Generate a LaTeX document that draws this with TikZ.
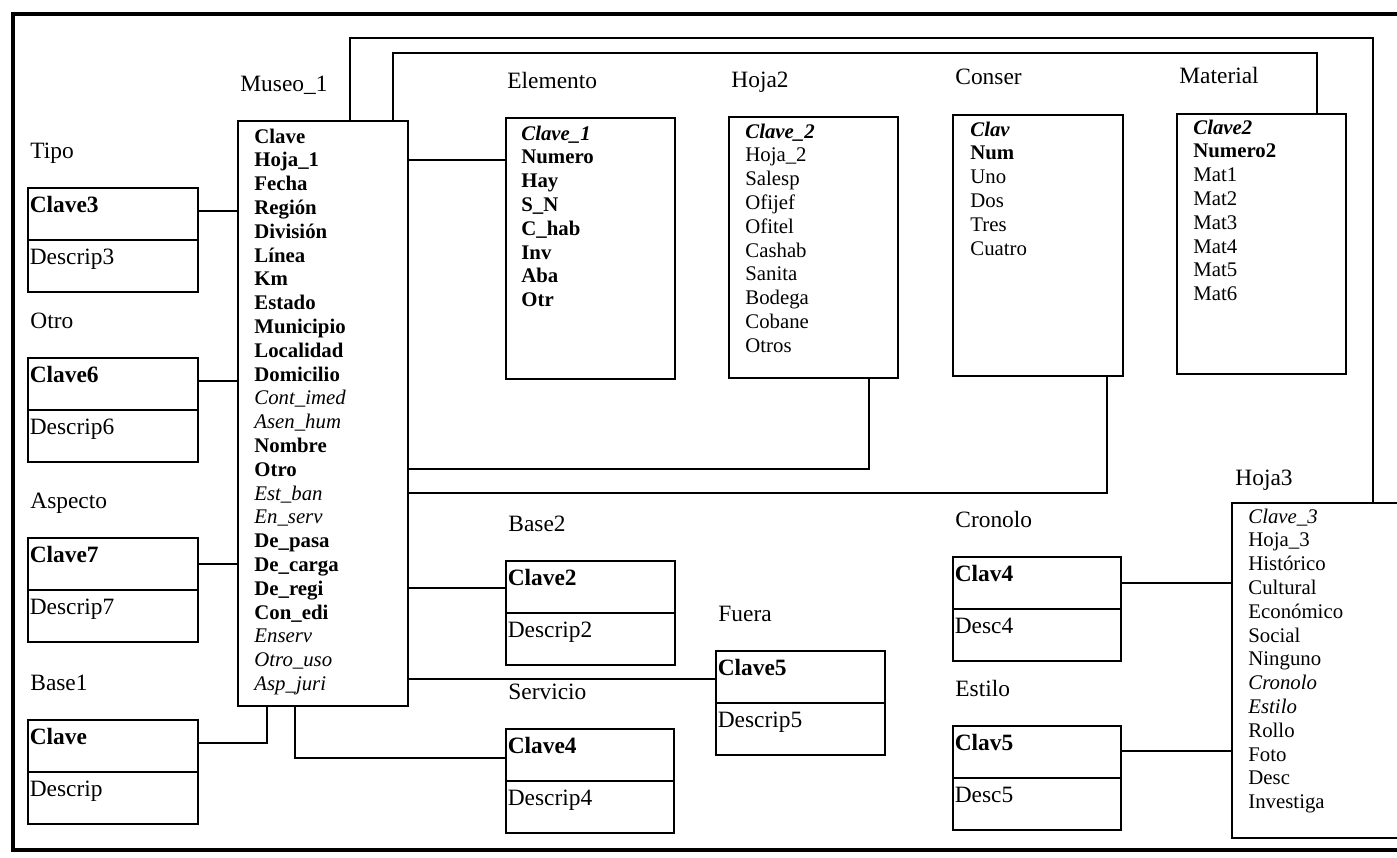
\documentclass[tikz,border=0pt]{standalone}
\usepackage{fontspec}
\setmainfont{Liberation Serif}
\newcommand\Fb[1]{\textbf{#1}}
\newcommand\Fi[1]{\textit{#1}}
\newcommand\Fbi[1]{\textbf{\textit{#1}}}
\tikzset{
  frame/.style={line width=2pt},
  link/.style={line width=1pt},
  tbl/.style={draw, line width=1pt, anchor=north west, inner sep=0pt},
  fld/.style={anchor=base west, inner sep=0pt, font=\fontsize{10.4}{11.9}\selectfont},
  lbl/.style={anchor=base west, inner sep=0pt, font=\fontsize{11.7}{14}\selectfont},
}
% name, x, y, width(px), label, key, desc
\newcommand\pairbox[7]{%
  \node[tbl, minimum width=#4*0.5pt, minimum height=52pt] (#1) at (#2,#3) {};
  \draw[link] (#1.west) -- (#1.east);
  \node[lbl] (#1-l) at ([xshift=1.5pt, yshift=14.5pt]#1.north west) {#5};
  \node[lbl] (#1-k) at ([xshift=1.2pt, yshift=-12.5pt]#1.north west) {\textbf{#6}};
  \node[lbl] (#1-d) at ([xshift=1.2pt, yshift=-12pt]#1.west) {#7};
}
% box, xoff, first baseline offset, list
\newcommand\fieldlist[4]{%
  \foreach \t [count=\i from 0] in {#4}
    \node[fld] (#1-\i) at ([xshift=#2, yshift={-(#3)-\i*11.9pt}]#1.north west) {\t};
}
\begin{document}
\begin{tikzpicture}[x=0.5pt, y=-0.5pt]
\useasboundingbox (0,0) rectangle (1397,857);
\fill[white] (0,0) rectangle (1397,857);
\clip (0,0) rectangle (1397,857);
\draw[frame] (13,14) rectangle (1450,850);

% main tables
\node[tbl, minimum width=85pt, minimum height=292.5pt] (museo) at (237,120) {};
\node[lbl] (museo-l) at ([xshift=1.5pt, yshift=14.5pt]museo.north west) {Museo\_1};
\fieldlist{museo}{8.5pt}{11.5pt}{\Fb{Clave}, \Fb{Hoja\_1}, \Fb{Fecha}, \Fb{Región}, \Fb{División}, \Fb{Línea}, \Fb{Km}, \Fb{Estado}, \Fb{Municipio}, \Fb{Localidad}, \Fb{Domicilio}, \Fi{Cont\_imed}, \Fi{Asen\_hum}, \Fb{Nombre}, \Fb{Otro}, \Fi{Est\_ban}, \Fi{En\_serv}, \Fb{De\_pasa}, \Fb{De\_carga}, \Fb{De\_regi}, \Fb{Con\_edi}, \Fi{Enserv}, \Fi{Otro\_uso}, \Fi{Asp\_juri}}

\node[tbl, minimum width=84.5pt, minimum height=130.5pt] (elemento) at (505,117) {};
\node[lbl] (elemento-l) at ([xshift=1pt, yshift=14.5pt]elemento.north west) {Elemento};
\fieldlist{elemento}{8pt}{11.5pt}{\Fbi{Clave\_1}, \Fb{Numero}, \Fb{Hay}, \Fb{S\_N}, \Fb{C\_hab}, \Fb{Inv}, \Fb{Aba}, \Fb{Otr}}

\node[tbl, minimum width=84.5pt, minimum height=130.5pt] (hoja2) at (728,116) {};
\node[lbl] (hoja2-l) at ([xshift=1.5pt, yshift=14.5pt]hoja2.north west) {Hoja2};
\fieldlist{hoja2}{8.5pt}{11pt}{\Fbi{Clave\_2}, Hoja\_2, Salesp, Ofijef, Ofitel, Cashab, Sanita, Bodega, Cobane, Otros}

\node[tbl, minimum width=85pt, minimum height=130.5pt] (conser) at (952,114) {};
\node[lbl] (conser-l) at ([xshift=1.5pt, yshift=15pt]conser.north west) {Conser};
\fieldlist{conser}{9pt}{11pt}{\Fbi{Clav}, \Fb{Num}, Uno, Dos, Tres, Cuatro}

\node[tbl, minimum width=84.5pt, minimum height=130pt] (material) at (1176,113) {};
\node[lbl] (material-l) at ([xshift=1.5pt, yshift=15pt]material.north west) {Material};
\fieldlist{material}{8.5pt}{10.5pt}{\Fbi{Clave2}, \Fb{Numero2}, Mat1, Mat2, Mat3, Mat4, Mat5, Mat6}

\node[tbl, minimum width=100pt, minimum height=167.5pt] (hoja3) at (1231,502) {};
\node[lbl] (hoja3-l) at ([xshift=2pt, yshift=8.5pt]hoja3.north west) {Hoja3};
\fieldlist{hoja3}{8.5pt}{10.5pt}{\Fi{Clave\_3}, Hoja\_3, Histórico, Cultural, Económico, Social, Ninguno, \Fi{Cronolo}, \Fi{Estilo}, Rollo, Foto, Desc, Investiga}

% small two-part boxes
\pairbox{tipo}{27}{187}{170}{Tipo}{Clave3}{Descrip3}
\pairbox{otro}{27}{357}{170}{Otro}{Clave6}{Descrip6}
\pairbox{aspecto}{27}{537}{170}{Aspecto}{Clave7}{Descrip7}
\pairbox{base1}{27}{719}{170}{Base1}{Clave}{Descrip}
\pairbox{base2}{505}{560}{169}{Base2}{Clave2}{Descrip2}
\pairbox{fuera}{715}{650}{169}{Fuera}{Clave5}{Descrip5}
\pairbox{servicio}{505}{728}{168}{Servicio}{Clave4}{Descrip4}
\pairbox{cronolo}{952}{556}{168}{Cronolo}{Clav4}{Desc4}
\pairbox{estilo}{952}{725}{168}{Estilo}{Clav5}{Desc5}

% connectors
\draw[link] (350,0 |- museo.north) |- (1373,38) -- (1373,0 |- hoja3.north);
\draw[link] (393,0 |- museo.north) |- (1317,53) -- (1317,0 |- material.north);
\draw[link] (museo.east |- 0,160) -- (elemento.west |- 0,160);
\draw[link] (museo.east |- 0,469) -| (869,0 |- hoja2.south);
\draw[link] (museo.east |- 0,493) -| (1107,0 |- conser.south);
\draw[link] (museo.east |- 0,588) -- (base2.west |- 0,588);
\draw[link] (museo.east |- 0,679) -- (fuera.west |- 0,679);
\draw[link] (267,0 |- museo.south) |- (base1.east |- 0,743);
\draw[link] (295,0 |- museo.south) |- (servicio.west |- 0,758);
\draw[link] (tipo.east |- 0,211) -- (museo.west |- 0,211);
\draw[link] (otro.east |- 0,381) -- (museo.west |- 0,381);
\draw[link] (aspecto.east |- 0,564) -- (museo.west |- 0,564);
\draw[link] (cronolo.east |- 0,583) -- (hoja3.west |- 0,583);
\draw[link] (estilo.east |- 0,751) -- (hoja3.west |- 0,751);
\end{tikzpicture}
\end{document}
